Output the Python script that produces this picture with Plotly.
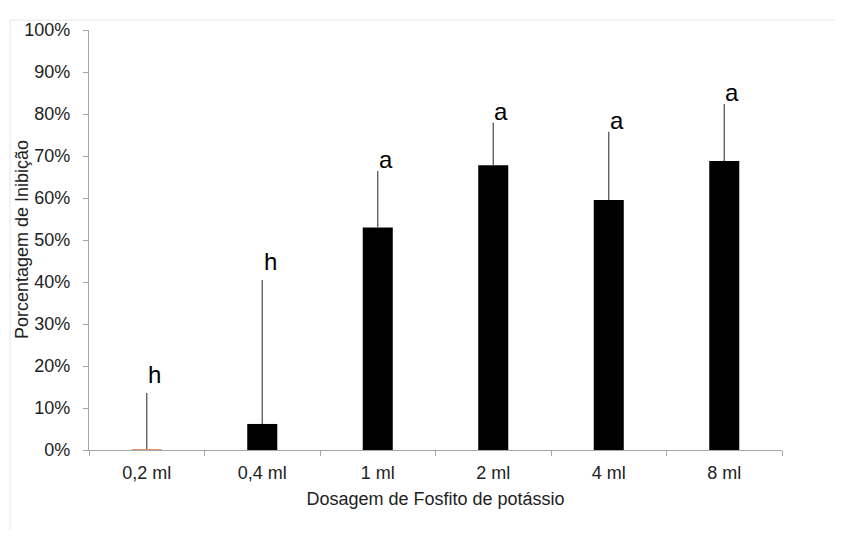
import plotly.graph_objects as go

categories = ["0,2 ml", "0,4 ml", "1 ml", "2 ml", "4 ml", "8 ml"]
inhibition = [0.0, 6.2, 53.0, 67.8, 59.5, 68.8]
error_up = [13.6, 34.3, 13.4, 10.1, 16.3, 13.6]
letters = ["h", "h", "a", "a", "a", "a"]
y_ticks = list(range(0, 101, 10))
y_tick_labels = [f"{v}%" for v in y_ticks]

FONT = "Liberation Sans, Arial, sans-serif"
FS = 18
letter_shift = {"h": 3, "a": -4}

# page body has an 8px margin -> figure is 827x523
L, R, T, B = 81, 53, 17, 81
PW, PH = 693, 425

fig = go.Figure()
fig.add_trace(go.Bar(
    x=categories, y=inhibition,
    marker=dict(color="black", line=dict(width=0)),
    width=0.26,
    error_y=dict(type="data", symmetric=False, array=error_up,
                 arrayminus=[0] * len(error_up),
                 color="#555555", thickness=1.3, width=0),
    showlegend=False,
))

# zero-value bars shown as a thin orange line at baseline
for i, (c, v) in enumerate(zip(categories, inhibition)):
    if v == 0:
        fig.add_shape(type="line", xref="x", yref="y", layer="above",
                      x0=i - 0.13, x1=i + 0.13, y0=v, y1=v,
                      line=dict(color="#E3956A", width=2))

for c, v, e, t in zip(categories, inhibition, error_up, letters):
    fig.add_annotation(x=c, y=v + e, text=t, showarrow=False,
                       xref="x", yref="y", yanchor="bottom",
                       xshift=8, yshift=letter_shift[t],
                       font=dict(family=FONT, size=24, color="black"))

# y-axis title
fig.add_annotation(text="Porcentagem de Inibição", textangle=-90,
                   xref="paper", yref="paper", x=-(89 - 22) / PW, y=0.5,
                   xanchor="center", yanchor="middle", showarrow=False,
                   font=dict(family=FONT, size=FS, color="#222222"))

# faint frame of original figure
fig.add_shape(type="line", xref="paper", yref="paper",
              x0=-(89 - 10) / PW, x1=1 + R / PW, y0=1 + 10 / PH, y1=1 + 10 / PH,
              line=dict(color="#e6e6e6", width=1))
fig.add_shape(type="line", xref="paper", yref="paper",
              x0=-(89 - 10) / PW, x1=-(89 - 10) / PW, y0=1 + 10 / PH, y1=-B / PH,
              line=dict(color="#e6e6e6", width=1))

fig.update_layout(
    width=L + PW + R, height=T + PH + B,
    margin=dict(l=L, r=R, t=T, b=B),
    paper_bgcolor="white", plot_bgcolor="white",
    font=dict(family=FONT, size=FS, color="#222222"),
    bargap=0.74,
)
fig.update_xaxes(
    type="category", showline=True, linecolor="#a6a6a6", linewidth=1.3,
    ticks="outside", tickson="boundaries", ticklen=5, tickcolor="#a6a6a6",
    showgrid=False, zeroline=False, ticklabelstandoff=6, layer="below traces",
    tickfont=dict(family=FONT, size=FS, color="#222222"),
    title=dict(text="Dosagem de Fosfito de potássio", standoff=10,
               font=dict(family=FONT, size=FS, color="#222222")),
)
fig.update_yaxes(
    range=[0, 100], tickvals=y_ticks, ticktext=y_tick_labels,
    showline=True, linecolor="#a6a6a6", linewidth=1.3,
    ticks="outside", ticklen=5, tickcolor="#a6a6a6",
    showgrid=False, zeroline=False, ticklabelstandoff=9, layer="below traces",
    tickfont=dict(family=FONT, size=FS, color="#222222"),
)

fig.write_html("out.html")
